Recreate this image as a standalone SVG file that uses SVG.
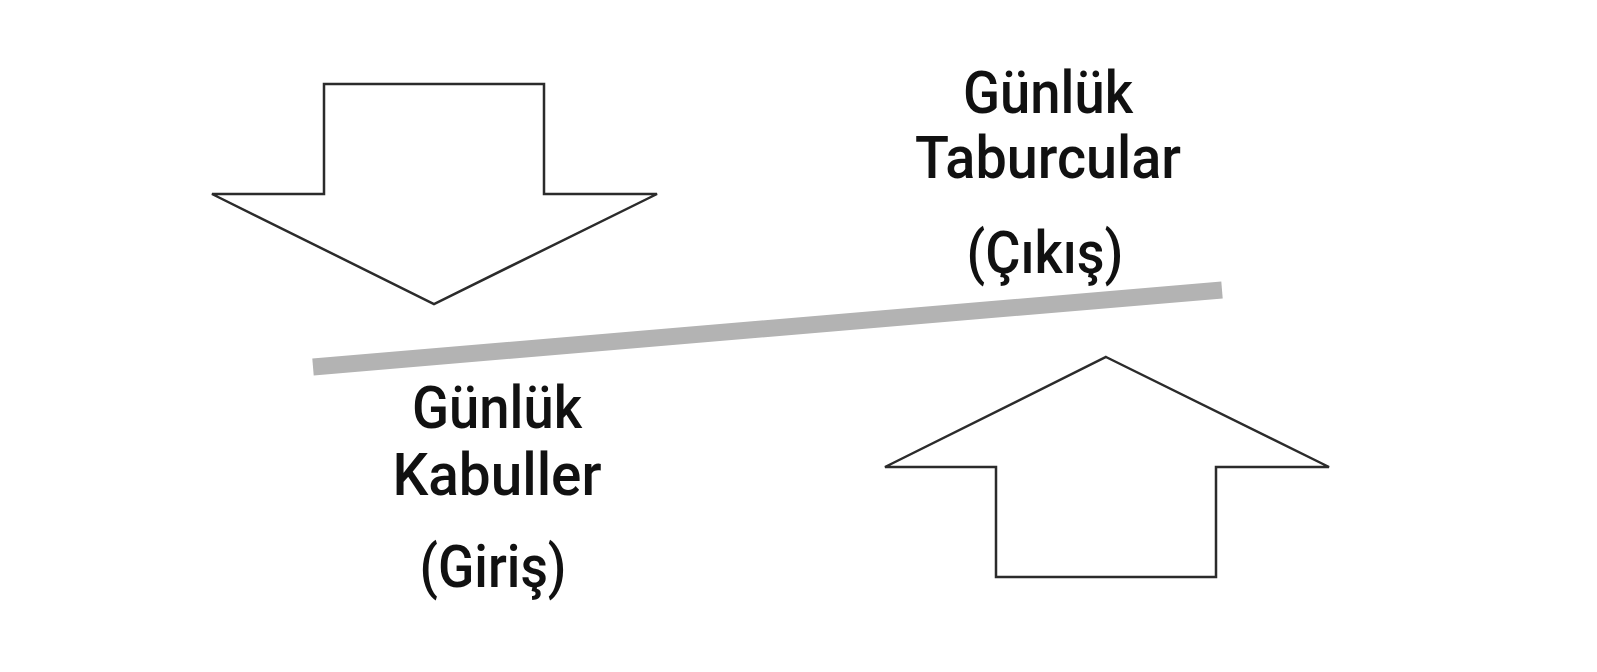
<svg xmlns="http://www.w3.org/2000/svg" width="1597" height="672" viewBox="0 0 1597 672">
<style>
.arrow{fill:#ffffff;stroke:#2b2b2b;stroke-width:2.5;stroke-linejoin:miter}
.lbl{font-family:Roboto,"DejaVu Sans Condensed",sans-serif;font-weight:500;font-size:59px;fill:#111111;text-anchor:middle}
</style>
<rect width="1597" height="672" fill="#ffffff"/>
<g id="arrow-down">
<polygon class="arrow" points="324,84 544,84 544,194 657,194 434,304 212,194 324,194"/>
</g>
<g id="arrow-up">
<polygon class="arrow" points="1106,357 1329,467 1216,467 1216,577 996,577 996,467 885,467"/>
</g>
<g id="connectors">
<line x1="313" y1="367" x2="1222" y2="290" stroke="#b3b3b3" stroke-width="17"/>
</g>
<g id="label-out">
<text class="lbl" x="1048" y="113" textLength="170" lengthAdjust="spacingAndGlyphs">Günlük</text>
<text class="lbl" x="1048" y="178" textLength="266" lengthAdjust="spacingAndGlyphs">Taburcular</text>
<text class="lbl" x="1045" y="273" textLength="157" lengthAdjust="spacingAndGlyphs">(Çıkış)</text>
</g>
<g id="label-in">
<text class="lbl" x="497" y="428" textLength="170" lengthAdjust="spacingAndGlyphs">Günlük</text>
<text class="lbl" x="497" y="495" textLength="209" lengthAdjust="spacingAndGlyphs">Kabuller</text>
<text class="lbl" x="493" y="587" textLength="147" lengthAdjust="spacingAndGlyphs">(Giriş)</text>
</g>
</svg>
